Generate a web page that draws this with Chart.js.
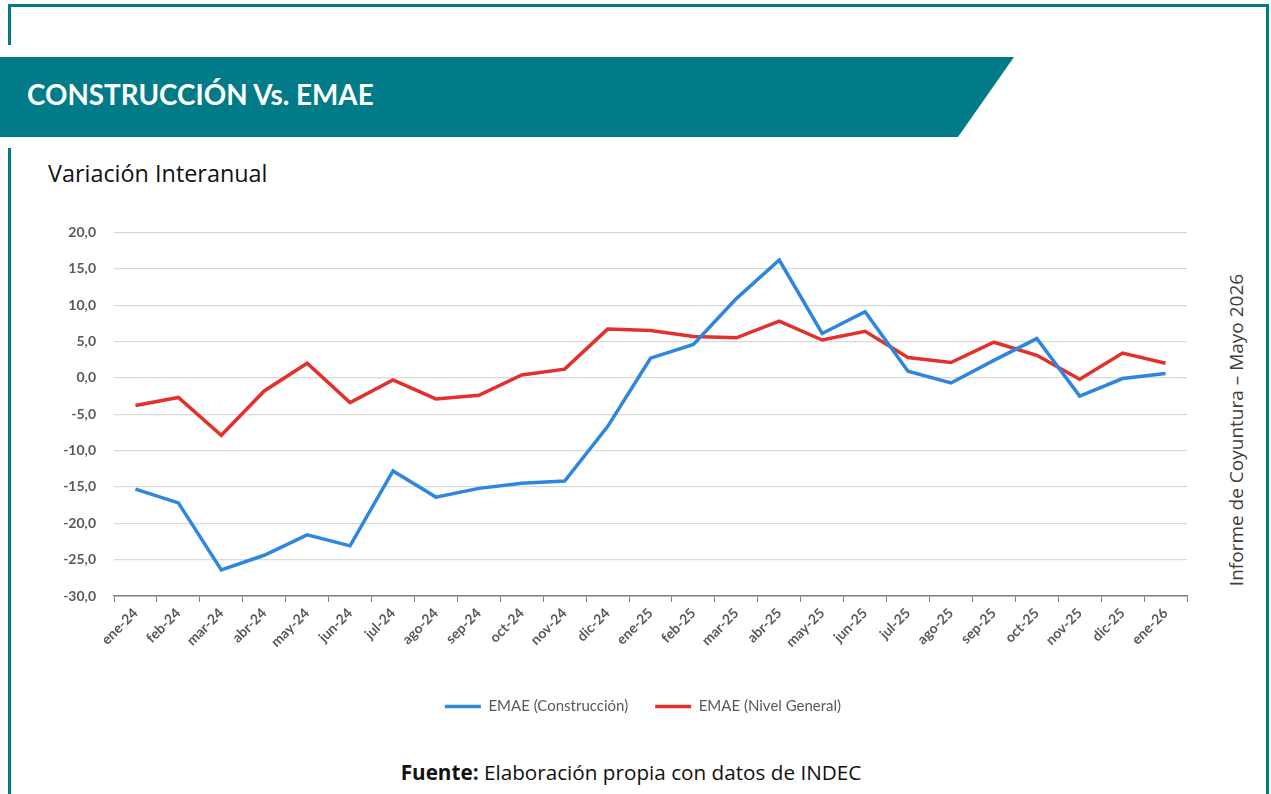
<!DOCTYPE html>
<html lang="es">
<head>
<meta charset="utf-8">
<title>Construcción Vs. EMAE</title>
<script src="https://cdn.jsdelivr.net/npm/chart.js@4.4.1/dist/chart.umd.min.js"></script>
<style>
    html, body { margin: 0; padding: 0; background: #fff; }
    body { width: 1271px; height: 794px; position: relative; overflow: hidden; font-family: Lato, "Open Sans", sans-serif; }
    .frame-top { position: absolute; left: 8px; top: 4px; width: 1261px; height: 3px; background: #007b87; }
    .frame-left1 { position: absolute; left: 8px; top: 4px; width: 3px; height: 41px; background: #007b87; }
    .frame-left2 { position: absolute; left: 8px; top: 148px; width: 3px; height: 646px; background: #007b87; }
    .frame-right { position: absolute; left: 1266px; top: 4px; width: 3px; height: 790px; background: #007b87; }
    .banner { position: absolute; left: 0; top: 57px; width: 1014px; height: 80px; background: #007b87;
              clip-path: polygon(0 0, 100% 0, 958px 100%, 0 100%); }
    .banner h1 { margin: 0; position: absolute; left: 27px; top: 21px; color: #fff; font-size: 27.8px; font-weight: 700; }
    .subtitle { position: absolute; left: 48px; top: 157px; font-family: "Open Sans", sans-serif; font-size: 23.4px; color: #111; }
    .side { position: absolute; left: 1236px; top: 430px; transform: translate(-50%, -50%) rotate(-90deg);
            white-space: nowrap; font-family: "Open Sans", sans-serif; font-size: 19px; color: #404040; }
    .source { position: absolute; left: 0; width: 1262px; top: 758px; text-align: center; font-family: "Open Sans", sans-serif; font-size: 20.7px; color: #111; }
    #chartBox { position: absolute; left: 30px; top: 206px; width: 1226px; height: 518px; }
</style>
</head>
<body>
<div class="frame-top"></div>
<div class="frame-left1"></div>
<div class="frame-left2"></div>
<div class="frame-right"></div>
<div class="banner"><h1>CONSTRUCCIÓN Vs. EMAE</h1></div>
<div class="subtitle">Variación Interanual</div>
<div class="side">Informe de Coyuntura – Mayo 2026</div>
<div class="source"><b>Fuente:</b> Elaboración propia con datos de INDEC</div>
<div id="chartBox"><canvas id="emaeChart"></canvas></div>

<script>
// Datos (variación interanual, %)
const meses = ['ene-24', 'feb-24', 'mar-24', 'abr-24', 'may-24', 'jun-24', 'jul-24', 'ago-24', 'sep-24',
    'oct-24', 'nov-24', 'dic-24', 'ene-25', 'feb-25', 'mar-25', 'abr-25', 'may-25', 'jun-25', 'jul-25',
    'ago-25', 'sep-25', 'oct-25', 'nov-25', 'dic-25', 'ene-26'];

const construccion = [-15.3, -17.2, -26.4, -24.4, -21.6, -23.1, -12.8, -16.4, -15.2, -14.5, -14.2, -6.7,
    2.7, 4.6, 10.9, 16.2, 6.1, 9.1, 0.9, -0.7, 2.4, 5.4, -2.5, -0.1, 0.6];

const nivelGeneral = [-3.8, -2.7, -7.9, -1.8, 2.0, -3.4, -0.3, -2.9, -2.4, 0.4, 1.2, 6.7,
    6.5, 5.7, 5.5, 7.8, 5.2, 6.4, 2.8, 2.1, 4.9, 3.1, -0.2, 3.4, 2.0];

const yMin = -30;
const yMax = 20;
const yStep = 5;

const gris = '#595959';

new Chart(document.getElementById('emaeChart'), {
    type: 'line',
    data: {
        labels: meses,
        datasets: [
            {
                label: 'EMAE (Construcción)',
                data: construccion,
                borderColor: '#2e86de',
                backgroundColor: '#2e86de',
                borderWidth: 3.5,
                pointRadius: 0,
                tension: 0
            },
            {
                label: 'EMAE (Nivel General)',
                data: nivelGeneral,
                borderColor: '#e2302d',
                backgroundColor: '#e2302d',
                borderWidth: 3.5,
                pointRadius: 0,
                tension: 0
            }
        ]
    },
    options: {
        responsive: true,
        maintainAspectRatio: false,
        animation: false,
        layout: { padding: { top: 10, right: 0, left: 0, bottom: 0 } },
        plugins: {
            tooltip: { enabled: false },
            legend: {
                position: 'bottom',
                labels: {
                    usePointStyle: true,
                    pointStyle: 'line',
                    pointStyleWidth: 36,
                    color: gris,
                    font: { family: 'Lato', size: 15 },
                    padding: 27
                }
            }
        },
        scales: {
            x: {
                offset: true,
                grid: { offset: true, drawOnChartArea: false, tickLength: 6, color: '#808080' },
                border: { display: true, color: '#808080', width: 1.5 },
                ticks: {
                    autoSkip: false,
                    minRotation: 45,
                    maxRotation: 45,
                    color: gris,
                    font: { family: 'Lato', size: 14, weight: 'bold' }
                },
                afterFit: (scale) => { scale.height = 76; }
            },
            y: {
                min: yMin,
                max: yMax,
                grid: { color: '#d9d9d9', lineWidth: 1.2, drawTicks: false },
                border: { display: false },
                ticks: {
                    stepSize: yStep,
                    padding: 18,
                    color: gris,
                    font: { family: 'Lato', size: 14, weight: 'bold' },
                    callback: (v) => v.toFixed(1).replace('.', ',')
                },
                afterFit: (scale) => { scale.width = 84; }
            },
            // eje vacío a la derecha: sólo reserva espacio para centrar la leyenda como en el original
            margen: {
                type: 'linear',
                position: 'right',
                grid: { display: false },
                border: { display: false },
                ticks: { display: false },
                afterFit: (scale) => { scale.width = 69; }
            }
        }
    }
});
</script>
</body>
</html>
